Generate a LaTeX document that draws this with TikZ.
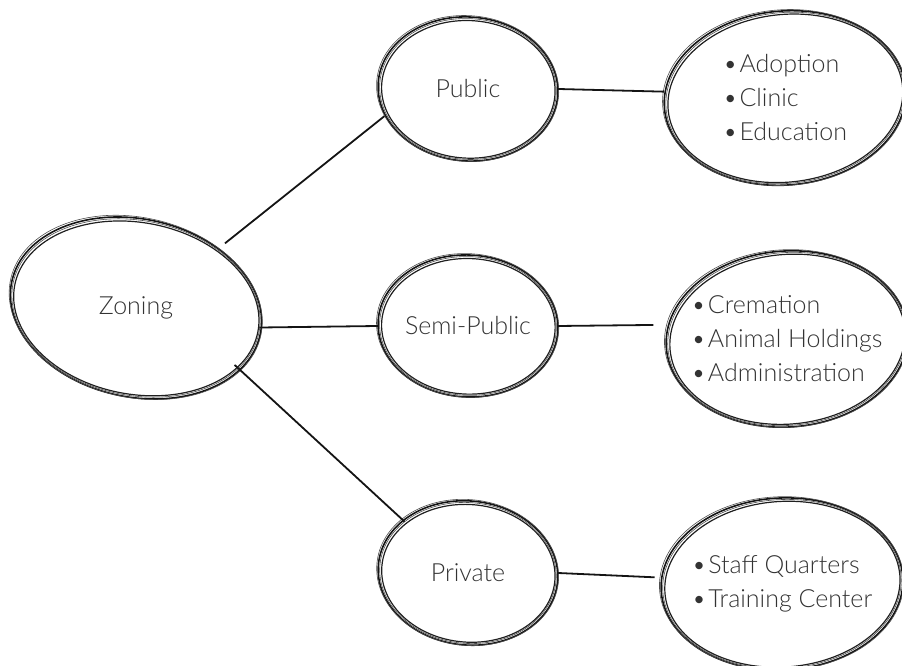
\documentclass[tikz,border=0pt]{standalone}
\usepackage{fontspec}
\setmainfont{Lato}[UprightFont=* Light]
\usetikzlibrary{shapes.geometric,calc}
\tikzset{
  x=1pt, y=1pt,
  bubble/.style={ellipse, draw=none, inner sep=0pt, align=left,
    text=black!80, font=\fontsize{25}{34}\selectfont},
  link/.style={line width=1.8pt, black!92},
  rim/.style={line width=1.6pt, black!92},
  rimmid/.style={line width=1.2pt, black!88},
  rimthin/.style={line width=0.6pt, black!70}
}
\newcommand\sketchrim[4]{%
  \draw[rim, rotate around={#4:(#1.center)}] (#1.center) ellipse [x radius=#2, y radius=#3];
  \draw[rimmid, rotate around={#4+1.2:(#1.center)}] ([shift={(0.4,-0.3)}]#1.center) ellipse [x radius=#2-3.2, y radius=#3-3.2];
  \draw[rimthin, rotate around={#4-1:(#1.center)}] ([shift={(-0.4,0.5)}]#1.center) ellipse [x radius=#2+1.2, y radius=#3+0.8];
  \draw[rimthin, rotate around={#4+0.6:(#1.center)}] (#1.center) ellipse [x radius=#2-1.6, y radius=#3-1.6];
}
\begin{document}
\begin{tikzpicture}
\useasboundingbox (0,0) rectangle (902,666);
% nodes (y = 666 - image y)
\node[bubble, minimum width=252pt, minimum height=182pt] (zon) at (136,358) {Zoning};
\node[bubble, minimum width=180pt, minimum height=144pt] (pub) at (468,577) {Public};
\node[bubble, minimum width=180pt, minimum height=142pt] (semi) at (468,340) {Semi-Public};
\node[bubble, minimum width=180pt, minimum height=144pt] (priv) at (468,93) {Private};
\node[bubble, minimum width=242pt, minimum height=174pt] (r1) at (785,568)
  {\textbullet\kern2pt Adoption\\\textbullet\kern2pt Clinic\\\textbullet\kern2pt Education};
\node[bubble, minimum width=242pt, minimum height=176pt] (r2) at (787,327)
  {\textbullet\kern2pt Cremation\\\textbullet\kern2pt Animal Holdings\\\textbullet\kern2pt Administration};
\node[bubble, minimum width=242pt, minimum height=172pt] (r3) at (782,82)
  {\textbullet\kern2pt Staff Quarters\\\textbullet\kern2pt Training Center};
% outlines
\sketchrim{zon}{127}{89}{-12}
\sketchrim{pub}{90}{72}{-4}
\sketchrim{semi}{90}{71}{-3}
\sketchrim{priv}{90}{72}{-6}
\sketchrim{r1}{121}{87}{5}
\sketchrim{r2}{121}{88}{4}
\sketchrim{r3}{121}{86}{3}
% connectors
\draw[link] (zon.36) -- (pub.198);
\draw[link] (zon.-9) -- (semi.west);
\draw[link] (zon.-30) -- (priv.141);
\draw[link] (pub.east) -- (r1.177);
\draw[link] (semi.east) -- (r2.174);
\draw[link] (priv.east) -- (r3.177);
\end{tikzpicture}
\end{document}
